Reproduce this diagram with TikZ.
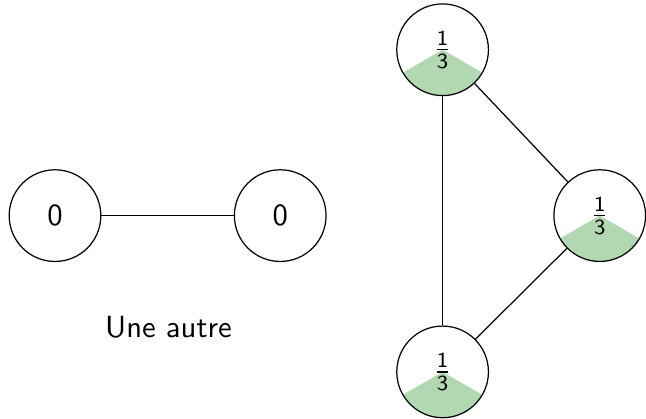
\documentclass[tikz,border=0pt]{standalone}
\usepackage{amsmath}

\definecolor{water}{RGB}{178,216,178}

\tikzset{
  vertex/.style={draw, circle, minimum size=1.05cm, inner sep=0pt},
  % a third of the disc filled from the bottom
  third/.style={vertex, path picture={
      \fill[water] (path picture bounding box.center) -- ++(210:0.53cm)
        arc[start angle=210, end angle=330, radius=0.53cm] -- cycle;}}
}

\begin{document}
\begin{tikzpicture}[font=\sffamily]
    \useasboundingbox (0,0) rectangle (7.40,4.79);

    % Two vertices, nothing in them
    \node[vertex] (left0) at (0.63,2.32) {0};
    \node[vertex] (right0) at (3.21,2.32) {0};
    \draw (left0) -- (right0);
    \node (caption) at (1.93,1.04) {Une autre};

    % Triangle, a third in each
    \node[third] (top) at (5.07,4.22) {$\frac{\mathsf{1}}{\mathsf{3}}$};
    \node[third] (side) at (6.87,2.32) {$\frac{\mathsf{1}}{\mathsf{3}}$};
    \node[third] (bottom) at (5.07,0.53) {$\frac{\mathsf{1}}{\mathsf{3}}$};
    \draw (top) -- (bottom);
    \draw (top) -- (side);
    \draw (side) -- (bottom);
\end{tikzpicture}
\end{document}
